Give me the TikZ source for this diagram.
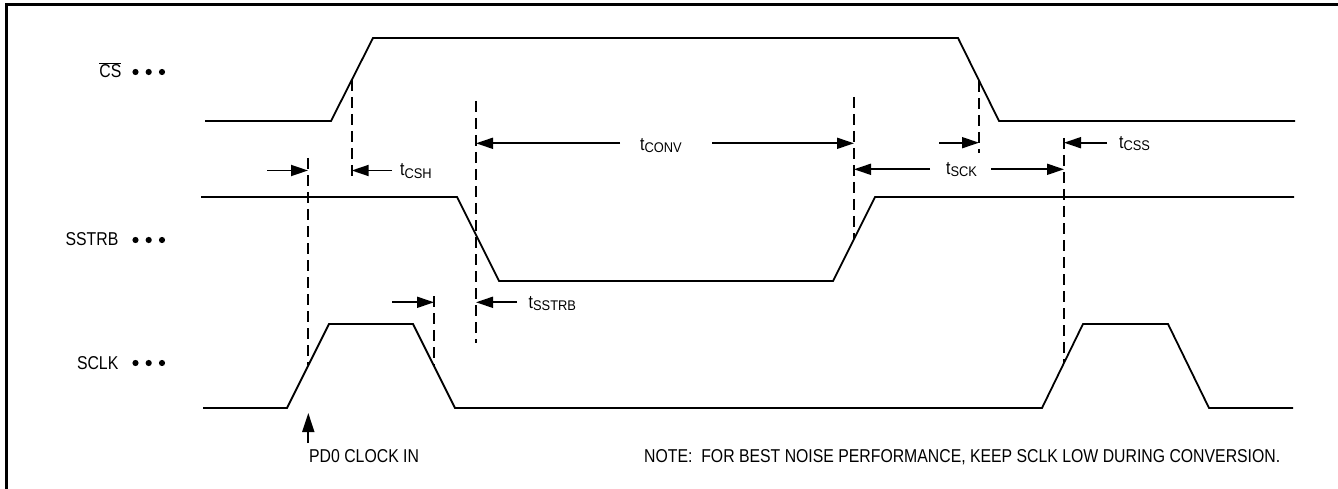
\documentclass[tikz,border=0pt]{standalone}
\usepackage{fontspec}
\setmainfont[FakeStretch=0.85]{Liberation Sans}
\newfontfamily\subfont[FakeStretch=0.92]{Liberation Sans}
\usetikzlibrary{arrows.meta}
\newcommand\tsub[1]{\raisebox{-2pt}{\subfont\fontsize{14}{14}\selectfont #1}}
\begin{document}
\begin{tikzpicture}[x=1pt,y=-1pt,
  wave/.style={line width=1.8pt, line join=miter},
  guide/.style={line width=1.8pt, dash pattern=on 11pt off 6pt},
  dim/.style={line width=1.8pt, -{Triangle[length=17pt,width=11pt]}},
  lbl/.style={font=\fontsize{18.6}{20}\selectfont, inner sep=0pt},
  dotmark/.style={fill=black}
  ]
\useasboundingbox (0,0) rectangle (1338,489);
% frame
\draw[line width=3pt] (6,489) -- (6,5) -- (1338,5);

% signal labels
\node[lbl, anchor=base east] (lcs) at (121.5,77.5) {$\overline{\hbox{CS}}$};
\node[lbl, anchor=base east] (lsstrb) at (118.5,245.5) {SSTRB};
\node[lbl, anchor=base east] (lsclk) at (118.5,369.5) {SCLK};
\foreach \y in {72,240,363}{
  \foreach \x in {135.5,148.7,162}{\fill[dotmark] (\x,\y) circle (3.1pt);}
}

% waveforms
\draw[wave] (205,121) -- (331,121) -- (373,38) -- (958,38) -- (999,121) -- (1295,121);
\draw[wave] (201,197) -- (457,197) -- (499,281) -- (833,281) -- (875,197) -- (1294,197);
\draw[wave] (203,408) -- (287,408) -- (329,324) -- (413,324) -- (455,408) -- (1042,408)
  -- (1083,324) -- (1168,324) -- (1209,408) -- (1293,408);

% dashed guides
\coordinate (g1t) at (308,158);   \coordinate (g1b) at (308,365);
\coordinate (g2t) at (351.7,80);  \coordinate (g2b) at (351.7,182);
\coordinate (g3t) at (476,101);   \coordinate (g3b) at (476,343);
\coordinate (g4t) at (434,296);   \coordinate (g4b) at (434,366);
\coordinate (g5t) at (854,97);    \coordinate (g5b) at (854,239);
\coordinate (g6t) at (979,81);    \coordinate (g6b) at (979,153);
\coordinate (g7t) at (1064,138);  \coordinate (g7b) at (1064,363);
\foreach \g in {1,...,7}{\draw[guide] (g\g t) -- (g\g b);}

% dimension arrows
\draw[dim] (267,170.5) -- (308,170.5);
\draw[dim] (392,170.5) -- (351.7,170.5);
\node[lbl, anchor=base west] (tcsh) at (400,176) {t\tsub{CSH}};

\draw[dim] (620,143.3) -- (476,143.3);
\draw[dim] (712,143.3) -- (854,143.3);
\node[lbl, anchor=base west] (tconv) at (640,150.5) {t\tsub{CONV}};

\draw[dim] (939,142.7) -- (979,142.7);
\draw[dim] (1107,142.7) -- (1064,142.7);
\node[lbl, anchor=base west] (tcss) at (1119,149) {t\tsub{CSS}};

\draw[dim] (930,169.3) -- (854,169.3);
\draw[dim] (991,169.3) -- (1064,169.3);
\node[lbl, anchor=base west] (tsck) at (946,175) {t\tsub{SCK}};

\draw[dim] (392,302.3) -- (434,302.3);
\draw[dim] (517,302.3) -- (476,302.3);
\node[lbl, anchor=base west] (tsstrb) at (528.5,308) {t\tsub{SSTRB}};

% PD0 clock in
\coordinate (pdtail) at (308.3,443);
\coordinate (pdtip) at (308.3,413);
\draw[line width=1.8pt, -{Triangle[length=19pt,width=12pt]}] (pdtail) -- (pdtip);
\node[lbl, anchor=base west] (pd0) at (309,462.5) {PD0 CLOCK IN};

\node[lbl, anchor=base west] (note) at (644,462.5) {NOTE:\ \ FOR BEST NOISE PERFORMANCE, KEEP SCLK LOW DURING CONVERSION.};
\end{tikzpicture}
\end{document}
